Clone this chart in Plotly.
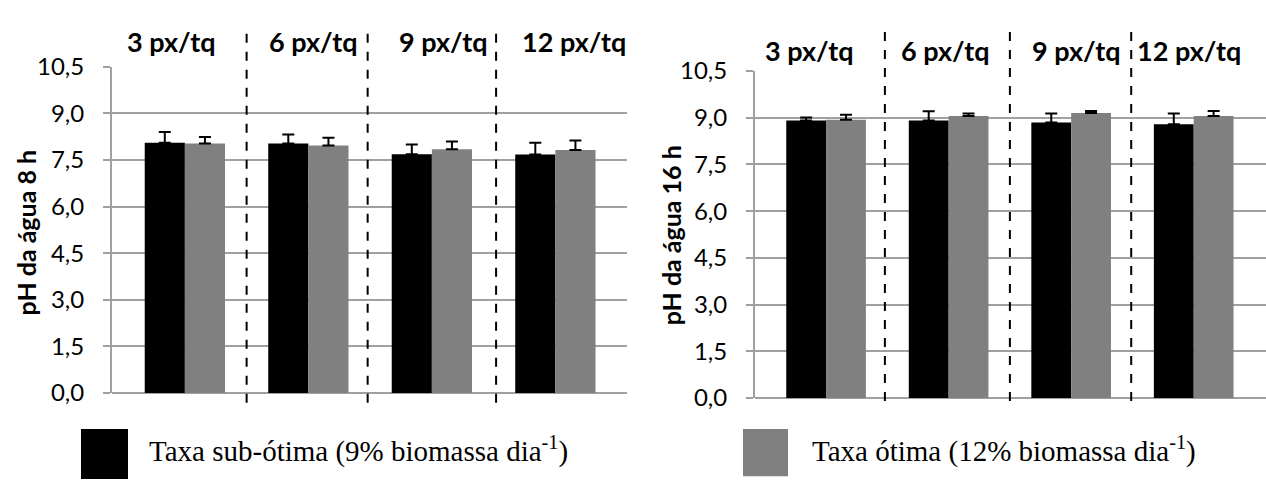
import plotly.graph_objects as go

# pH of pond water by stocking density, two feeding rates
densidades = ["3 px/tq", "6 px/tq", "9 px/tq", "12 px/tq"]
serie_sub = "Taxa sub-ótima (9% biomassa dia<sup>-1</sup>)"
serie_otima = "Taxa ótima (12% biomassa dia<sup>-1</sup>)"

ph8_sub = [8.06, 8.03, 7.69, 7.68]
ph8_sub_dp = [0.34, 0.29, 0.31, 0.38]
ph8_otima = [8.03, 7.97, 7.85, 7.82]
ph8_otima_dp = [0.21, 0.25, 0.25, 0.31]

ph16_sub = [8.91, 8.91, 8.85, 8.79]
ph16_sub_dp = [0.10, 0.30, 0.29, 0.35]
ph16_otima = [8.94, 9.06, 9.15, 9.06]
ph16_otima_dp = [0.16, 0.08, 0.07, 0.16]

y_ticks = [0.0, 1.5, 3.0, 4.5, 6.0, 7.5, 9.0, 10.5]
y_ticktext = ["0,0", "1,5", "3,0", "4,5", "6,0", "7,5", "9,0", "10,5"]

W, H = 1266, 492
BLACK = "#000000"
GRAY = "#808080"
GRID = "#a0a0a0"
SANS = "Lato, 'Open Sans', sans-serif"
SERIF = "'Liberation Serif', 'Times New Roman', serif"

pos = list(range(len(densidades)))
bw = 0.325

fig = go.Figure()


def add_pair(sub, sub_dp, ot, ot_dp, xa, ya):
    for vals, dp, col, off, name in [
        (sub, sub_dp, BLACK, -bw, serie_sub),
        (ot, ot_dp, GRAY, 0.0, serie_otima),
    ]:
        fig.add_trace(go.Bar(
            x=pos, y=vals, width=bw, offset=off, name=name,
            marker=dict(color=col, line=dict(width=0)),
            error_y=dict(type="data", array=dp, arrayminus=[0] * len(dp),
                         symmetric=False, color=BLACK, thickness=2, width=6),
            xaxis=xa, yaxis=ya, showlegend=False,
        ))


add_pair(ph8_sub, ph8_sub_dp, ph8_otima, ph8_otima_dp, "x", "y")
add_pair(ph16_sub, ph16_sub_dp, ph16_otima, ph16_otima_dp, "x2", "y2")


def px_x(v):
    return v / W


def px_y(v):
    return 1 - v / H


yax = dict(range=[0, 10.5], tickvals=y_ticks, ticktext=y_ticktext,
           showgrid=True, gridcolor=GRID, gridwidth=2,
           zeroline=True, zerolinecolor=GRID, zerolinewidth=2,
           showline=True, linecolor=GRID, linewidth=2,
           ticks="outside", ticklen=7, tickcolor=GRID, tickwidth=2,
           ticklabelstandoff=14,
           tickfont=dict(family=SANS, size=24, color="#000000"))
xax = dict(showticklabels=False, showgrid=False, zeroline=False,
           showline=False, ticks="")

fig.update_layout(
    width=W, height=H, margin=dict(l=0, r=0, t=0, b=0),
    paper_bgcolor="white", plot_bgcolor="white", barmode="overlay",
    xaxis=dict(xax, domain=[px_x(112), px_x(627)], range=[-0.59, 3.58]),
    yaxis=dict(yax, domain=[px_y(400.7), px_y(54)], anchor="x"),
    xaxis2=dict(xax, domain=[px_x(755), 1.0], range=[-0.58, 3.59], anchor="y2"),
    yaxis2=dict(yax, domain=[px_y(406), px_y(58.5)], anchor="x2"),
)

# dashed separators between density groups
for xr, xs, y0, y1 in [("x", [0.5, 1.48, 2.52], 411, 10),
                       ("x2", [0.48, 1.5, 2.49], 409, 9)]:
    for xv in xs:
        fig.add_shape(type="line", xref=xr, yref="paper", x0=xv, x1=xv,
                      y0=px_y(y0), y1=px_y(y1),
                      line=dict(color=BLACK, width=2, dash="dash"))

# group headers
for txt, cx in zip(densidades, [171, 313, 443, 574]):
    fig.add_annotation(text="<b>%s</b>" % txt, x=px_x(cx), y=px_y(27),
                       xref="paper", yref="paper", showarrow=False,
                       xanchor="center", yanchor="middle",
                       font=dict(family=SANS, size=27, color="#000000"))
for txt, cx in zip(densidades, [809, 945, 1076, 1189]):
    fig.add_annotation(text="<b>%s</b>" % txt, x=px_x(cx), y=px_y(37),
                       xref="paper", yref="paper", showarrow=False,
                       xanchor="center", yanchor="middle",
                       font=dict(family=SANS, size=27, color="#000000"))

# y-axis titles
fig.add_annotation(text="<b>pH da água 8 h</b>", x=px_x(26), y=px_y(230),
                   xref="paper", yref="paper", showarrow=False, textangle=-90,
                   xanchor="center", yanchor="middle",
                   font=dict(family=SANS, size=25, color="#000000"))
fig.add_annotation(text="<b>pH da água 16 h</b>", x=px_x(671), y=px_y(233),
                   xref="paper", yref="paper", showarrow=False, textangle=-90,
                   xanchor="center", yanchor="middle",
                   font=dict(family=SANS, size=25, color="#000000"))

# legend swatches and labels
fig.add_shape(type="rect", xref="paper", yref="paper",
              x0=px_x(81), x1=px_x(128), y0=px_y(492), y1=px_y(439),
              fillcolor=BLACK, line=dict(width=0))
fig.add_shape(type="rect", xref="paper", yref="paper",
              x0=px_x(743), x1=px_x(788), y0=px_y(489), y1=px_y(439),
              fillcolor=GRAY, line=dict(width=0))
fig.add_annotation(text=serie_sub, x=px_x(147), y=px_y(461), xanchor="left",
                   yanchor="middle", xref="paper", yref="paper", showarrow=False,
                   font=dict(family=SERIF, size=29, color="#000000"))
fig.add_annotation(text=serie_otima, x=px_x(810), y=px_y(461), xanchor="left",
                   yanchor="middle", xref="paper", yref="paper", showarrow=False,
                   font=dict(family=SERIF, size=29, color="#000000"))

fig.write_html("out.html")
